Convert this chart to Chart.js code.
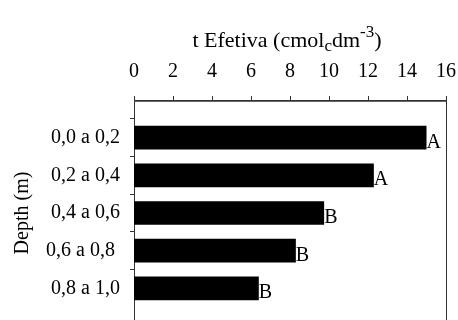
<!DOCTYPE html>
<html>
<head>
<meta charset="utf-8">
<script src="https://cdn.jsdelivr.net/npm/chart.js@4.4.1/dist/chart.umd.min.js"></script>
<style>
  html, body { margin: 0; padding: 0; background: #fff; overflow: hidden; }
  /* the plot frame runs past the bottom edge, as in the original crop */
  #wrap { position: relative; width: 458px; height: 320px; overflow: hidden; }
  #chart { display: block; }
</style>
</head>
<body>
<div id="wrap"><canvas id="chart" width="458" height="332"></canvas></div>
<script>
(() => {
  "use strict";

  // depth classes, top to bottom
  const categories = ["0,0 a 0,2", "0,2 a 0,4", "0,4 a 0,6", "0,6 a 0,8 ", "0,8 a 1,0"];
  const tEfetiva = [15.0, 12.3, 9.75, 8.3, 6.4];
  const letters = ["A", "A", "B", "B", "B"];
  const xTicks = [0, 2, 4, 6, 8, 10, 12, 14, 16];

  const SERIF = "'Liberation Serif', 'Times New Roman', serif";
  const AXIS = "#333";

  // blank slot above and below so the bars sit one step in from the frame
  const labels = ["", ...categories, ""];
  const values = [null, ...tEfetiva, null];

  const titleParts = [
    { text: "t Efetiva (cmol", size: 22, dy: 0 },
    { text: "c", size: 17, dy: 4 },
    { text: "dm", size: 22, dy: 0 },
    { text: "-3", size: 17, dy: -10 },
    { text: ")", size: 22, dy: 0 },
  ];

  const richTitle = {
    id: "richTitle",
    afterDraw(chart) {
      const { ctx, chartArea } = chart;
      ctx.save();
      ctx.fillStyle = "#000";
      ctx.textBaseline = "alphabetic";
      ctx.textAlign = "left";
      let total = 0;
      titleParts.forEach((p) => {
        ctx.font = p.size + "px " + SERIF;
        p.w = ctx.measureText(p.text).width;
        total += p.w;
      });
      let x = (chartArea.left + chartArea.right) / 2 - 3 - total / 2;
      const base = 47;
      titleParts.forEach((p) => {
        ctx.font = p.size + "px " + SERIF;
        ctx.fillText(p.text, x, base + p.dy);
        x += p.w;
      });
      ctx.restore();
    },
  };

  // top line with its outward tick marks, and the right-hand side of the frame
  const frame = {
    id: "frame",
    afterDraw(chart) {
      const { ctx, chartArea } = chart;
      const xs = chart.scales.x;
      const left = Math.round(chartArea.left);
      const top = Math.round(chartArea.top);
      const right = Math.round(chartArea.right);
      ctx.save();
      ctx.fillStyle = "#666";
      ctx.fillRect(left + 1, top + 1, right - left - 1, 1);
      ctx.fillStyle = AXIS;
      ctx.fillRect(left, top, right - left + 1, 1);
      ctx.fillRect(right, top, 1, chartArea.bottom - top);
      xs.ticks.forEach((t) => {
        const px = Math.round(xs.getPixelForValue(t.value));
        ctx.fillRect(px, top - 4, 1, 4);
      });
      ctx.restore();
    },
  };

  const barLetters = {
    id: "barLetters",
    afterDatasetsDraw(chart) {
      const { ctx } = chart;
      const meta = chart.getDatasetMeta(0);
      ctx.save();
      ctx.fillStyle = "#000";
      ctx.font = "20px " + SERIF;
      ctx.textAlign = "left";
      ctx.textBaseline = "alphabetic";
      meta.data.forEach((bar, i) => {
        const letter = letters[i - 1];
        if (!letter || values[i] == null) return;
        ctx.fillText(letter, bar.x, bar.y + 10);
      });
      ctx.restore();
    },
  };

  const isBlank = (ctx) => labels[ctx.index] === "";

  new Chart(document.getElementById("chart"), {
    type: "bar",
    data: {
      labels,
      datasets: [
        {
          data: values,
          backgroundColor: "#000",
          borderWidth: 0,
          barPercentage: 0.7,
          categoryPercentage: 0.9,
        },
      ],
    },
    options: {
      indexAxis: "y",
      responsive: false,
      animation: false,
      layout: { padding: { left: 0, right: 12, top: 60, bottom: 6 } },
      plugins: { legend: { display: false }, tooltip: { enabled: false }, title: { display: false } },
      scales: {
        x: {
          type: "linear",
          position: "top",
          min: xTicks[0],
          max: xTicks[xTicks.length - 1],
          ticks: {
            stepSize: xTicks[1] - xTicks[0],
            color: "#000",
            font: { family: SERIF, size: 20 },
            padding: 8,
            maxRotation: 0,
          },
          grid: { display: false },
          border: { display: false },
          afterFit(s) { s.height = 40; s.paddingLeft = 0; s.paddingRight = 0; },
        },
        y: {
          type: "category",
          offset: false,
          ticks: {
            color: "#000",
            font: { family: SERIF, size: 20 },
            padding: 10,
            autoSkip: false,
          },
          grid: {
            drawOnChartArea: false,
            tickLength: 4,
            lineWidth: 1,
            color: AXIS,
            tickColor: (ctx) => (isBlank(ctx) ? "rgba(0,0,0,0)" : AXIS),
          },
          border: { display: true, color: AXIS, width: 1 },
          title: {
            display: true,
            text: "Depth (m)",
            color: "#000",
            font: { family: SERIF, size: 20 },
            padding: { top: 11, bottom: 0 },
          },
          afterFit(s) { s.width = 134; s.paddingTop = 0; s.paddingBottom = 0; },
        },
      },
    },
    plugins: [richTitle, frame, barLetters],
  });
})();
</script>
</body>
</html>
